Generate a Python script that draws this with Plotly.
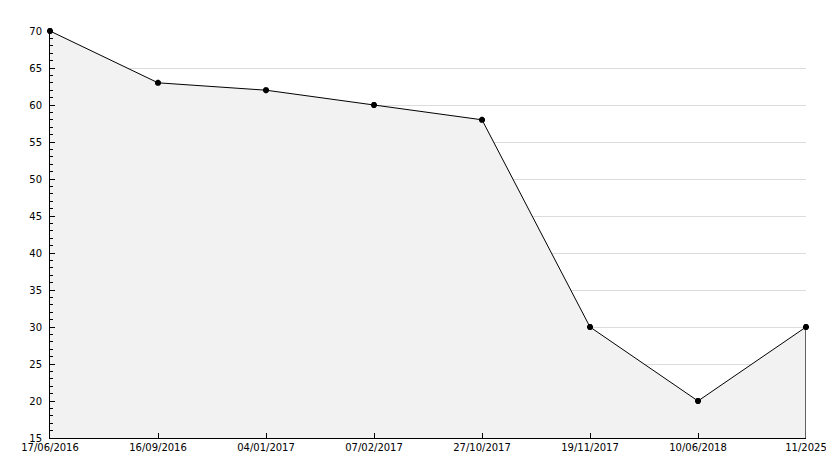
import plotly.graph_objects as go

dates = ["17/06/2016", "16/09/2016", "04/01/2017", "07/02/2017",
         "27/10/2017", "19/11/2017", "10/06/2018", "11/2025"]
values = [70, 63, 62, 60, 58, 30, 20, 30]
y_min, y_max = 15, 70
y_ticks = list(range(15, 71, 5))

idx = list(range(len(dates)))

fig = go.Figure()
fig.add_trace(go.Scatter(
    x=idx, y=values, mode="lines+markers",
    fill="tozeroy", fillcolor="#f2f2f2",
    line=dict(color="black", width=1),
    marker=dict(symbol="asterisk-open", size=5, color="black",
                line=dict(color="black", width=2.2)),
    hoverinfo="skip", showlegend=False, cliponaxis=False,
))
# right edge of filled area
fig.add_trace(go.Scatter(
    x=[idx[-1], idx[-1]], y=[values[-1], y_min], mode="lines",
    line=dict(color="black", width=1.2), hoverinfo="skip", showlegend=False,
    cliponaxis=False,
))

fig.update_layout(
    width=826, height=460,
    margin=dict(l=42, r=28, t=23, b=30, autoexpand=False),
    paper_bgcolor="white", plot_bgcolor="white",
    font=dict(family="DejaVu Sans", size=10, color="black"),
    xaxis=dict(
        range=[0, len(dates) - 1], tickmode="array", tickvals=idx, ticktext=dates,
        showgrid=False, zeroline=False, showline=True, linecolor="black", linewidth=1,
        ticks="inside", ticklen=5, tickcolor="black", automargin=False,
    ),
    yaxis=dict(
        range=[y_min, y_max], tickmode="array", tickvals=y_ticks,
        showgrid=True, gridcolor="#dcdcdc", gridwidth=1, zeroline=False,
        showline=True, linecolor="black", linewidth=1,
        ticks="inside", ticklen=5, tickcolor="black", automargin=False,
        ticklabelstandoff=5,
        minor=dict(dtick=1, ticks="inside", ticklen=3, tickcolor="black", showgrid=False),
    ),
)
fig.write_html("out.html")
